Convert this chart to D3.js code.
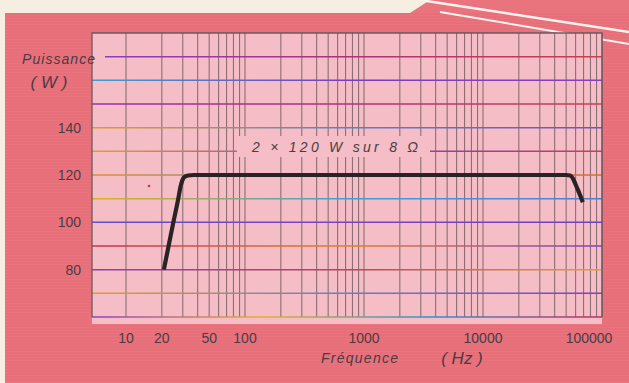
<!DOCTYPE html>
<html lang="fr">
<head>
<meta charset="UTF-8">
<title>Puissance / Fréquence</title>
<script src="https://d3js.org/d3.v7.min.js"></script>
<style>
  * { margin: 0; padding: 0; box-sizing: border-box; }
  body { background: #f6efe1; width: 629px; height: 383px; overflow: hidden; }
  svg { display: block; }
  text { font-family: 'Liberation Sans', Arial, sans-serif; fill: #4a3c42; }
</style>
</head>
<body>
<svg id="chart" width="629" height="383"></svg>
<script>
// courbe de puissance (Hz, W)
var freq  = [20.8, 22.8, 25, 27.5, 28.7, 30.7, 33.2, 37, 50000, 54000, 57000, 60000, 63000, 66000, 69000];
var power = [80, 90, 100, 110, 115, 119, 119.8, 120, 120, 119.8, 118.5, 116, 113.5, 111, 108.5];

var yTicks = [80, 100, 120, 140];
var yGrid = [60, 70, 80, 90, 100, 110, 120, 130, 140, 150, 160, 170];
var xTicks = [10, 20, 50, 100, 1000, 10000, 100000];
var xTickLabels = ['10', '20', '50', '100', '1000', '10000', '100000'];
var decades = [10, 100, 1000, 10000];

var W = 629, H = 383;
var plot = { left: 92, right: 602, top: 33, bottom: 317 };

var svg = d3.select('#chart');

var x = d3.scaleLog().domain([10, 100000]).range([126, 602]);
var y = d3.scaleLinear().domain([60, 180]).range([plot.bottom, plot.top]);

// fond saumon + plis du papier
svg.append('path')
  .attr('d', 'M5,13 L410,13 L430,0 L629,0 L629,383 L5,383 Z')
  .attr('fill', '#ea747e');

var tex = svg.append('g').attr('opacity', 0.18);
d3.range(14, 383, 3).forEach(function(v) {
  tex.append('line').attr('x1', 5).attr('x2', W).attr('y1', v).attr('y2', v)
    .attr('stroke', '#c04858').attr('stroke-width', 1);
});

svg.append('path').attr('d', 'M420,0 L629,32').attr('stroke', '#fbf3ec').attr('stroke-width', 2.5).attr('fill', 'none');
svg.append('path').attr('d', 'M440,12 L629,44').attr('stroke', '#fbf3ec').attr('stroke-width', 2).attr('fill', 'none');

// zone du graphique
svg.append('rect')
  .attr('x', plot.left).attr('y', plot.top)
  .attr('width', plot.right - plot.left).attr('height', 324 - plot.top)
  .attr('fill', '#f5bdc6');

// dégradés des lignes horizontales (encre mal repérée)
var lineColors = {
  60: ['#9040c0', '#e0b030', '#3090d0', '#c03060'],
  70: ['#e0a020', '#6080d0', '#8040c0'],
  80: ['#9040b0', '#c04060', '#e0a030'],
  90: ['#c83050', '#e08030', '#8040c0'],
  100: ['#6050d0', '#8040c0', '#7040c0'],
  110: ['#e0b020', '#40a0d0', '#5080d0'],
  120: ['#e09030', '#5090d0', '#d07030'],
  130: ['#e0a030', '#8040c0', '#c04060'],
  140: ['#e0a020', '#5a80d0', '#7a50c0'],
  150: ['#9a30b0', '#b03080', '#c84050'],
  160: ['#3aa0d0', '#7a3cc8', '#8a3cc8'],
  170: ['#8a3cc8', '#b0307a', '#c8404a']
};
var defs = svg.append('defs');
yGrid.forEach(function(v) {
  var g = defs.append('linearGradient').attr('id', 'hl' + v)
    .attr('gradientUnits', 'userSpaceOnUse')
    .attr('x1', plot.left).attr('x2', plot.right).attr('y1', 0).attr('y2', 0);
  var c = lineColors[v];
  c.forEach(function(col, i) {
    g.append('stop').attr('offset', (i / (c.length - 1)) * 100 + '%').attr('stop-color', col);
  });
});

var grid = svg.append('g');

// verticales logarithmiques
var vLines = [];
decades.forEach(function(d) { d3.range(1, 10).forEach(function(m) { vLines.push(d * m); }); });
vLines.push(100000);
grid.selectAll('line.v').data(vLines).join('line')
  .attr('class', 'v')
  .attr('x1', function(d) { return x(d); }).attr('x2', function(d) { return x(d); })
  .attr('y1', plot.top).attr('y2', plot.bottom)
  .attr('stroke', '#6a5458').attr('stroke-opacity', 0.75).attr('stroke-width', 1.1);

// horizontales
grid.selectAll('line.h').data(yGrid).join('line')
  .attr('class', 'h')
  .attr('x1', plot.left).attr('x2', plot.right)
  .attr('y1', function(d) { return y(d); }).attr('y2', function(d) { return y(d); })
  .attr('stroke', function(d) { return 'url(#hl' + d + ')'; })
  .attr('stroke-width', 1.5);

// cadre
svg.append('path')
  .attr('d', 'M' + plot.left + ',' + plot.bottom + ' V' + plot.top + ' H' + plot.right + ' V' + plot.bottom)
  .attr('fill', 'none').attr('stroke', '#6a5a60').attr('stroke-width', 1.3);

// cache derrière le libellé de la courbe
svg.append('rect').attr('x', 237).attr('y', 136).attr('width', 193).attr('height', 21).attr('fill', '#f5bdc6');
svg.append('rect').attr('x', plot.left + 1).attr('y', 52).attr('width', 12).attr('height', 12).attr('fill', '#f5bdc6');

// courbe
var line = d3.line()
  .x(function(d, i) { return x(freq[i]); })
  .y(function(d) { return y(d); })
  .curve(d3.curveMonotoneX);
svg.append('path').datum(power)
  .attr('d', line)
  .attr('fill', 'none')
  .attr('stroke', '#2b2224')
  .attr('stroke-width', 4.2)
  .attr('stroke-linejoin', 'round');

svg.append('circle').attr('cx', 149).attr('cy', 186).attr('r', 1.3).attr('fill', '#e0303a');

// libellé de la courbe
svg.append('text')
  .attr('x', 252).attr('y', 152)
  .attr('textLength', 166).attr('lengthAdjust', 'spacing')
  .attr('font-style', 'italic').attr('font-size', 14)
  .text('2 × 120 W sur 8 Ω');

// axe des ordonnées
svg.append('g').selectAll('text').data(yTicks).join('text')
  .attr('x', 81).attr('y', function(d) { return y(d); }).attr('dy', '0.36em')
  .attr('text-anchor', 'end').attr('font-size', 14)
  .text(function(d) { return d; });

svg.append('text').attr('x', 22).attr('y', 64)
  .attr('font-style', 'italic').attr('font-size', 14)
  .attr('textLength', 73).attr('lengthAdjust', 'spacing')
  .text('Puissance');
svg.append('text').attr('x', 49).attr('y', 88)
  .attr('text-anchor', 'middle').attr('font-style', 'italic').attr('font-size', 17)
  .text('( W )');

// axe des abscisses
svg.append('g').selectAll('text').data(xTicks).join('text')
  .attr('x', function(d) { return d === 100000 ? x(d) - 13 : x(d); })
  .attr('y', 343)
  .attr('text-anchor', 'middle').attr('font-size', 14)
  .text(function(d, i) { return xTickLabels[i]; });

svg.append('text').attr('x', 321).attr('y', 363)
  .attr('font-style', 'italic').attr('font-size', 14)
  .attr('textLength', 77).attr('lengthAdjust', 'spacing')
  .text('Fréquence');
svg.append('text').attr('x', 462).attr('y', 364)
  .attr('text-anchor', 'middle').attr('font-style', 'italic').attr('font-size', 17)
  .text('( Hz )');
</script>
</body>
</html>
